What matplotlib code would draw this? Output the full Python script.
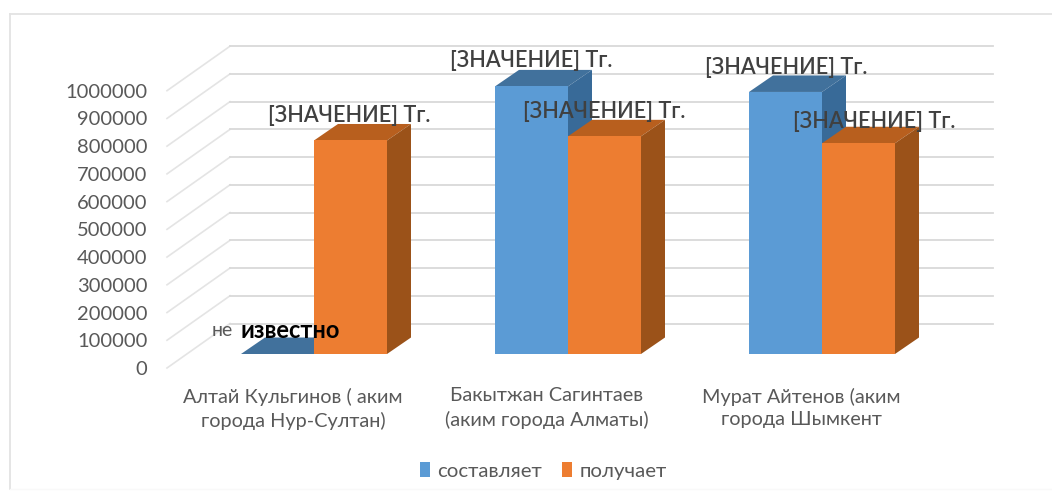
import numpy as np
import matplotlib
matplotlib.use("Agg")
import matplotlib.pyplot as plt
from matplotlib.lines import Line2D

categories = ["Алтай Кульгинов ( аким\nгорода Нур-Султан)",
              "Бакытжан Сагинтаев\n(аким города Алматы)",
              "Мурат Айтенов (аким\nгорода Шымкент"]
series_names = ["составляет", "получает"]
sostavlyaet = [0, 965000, 945000]
poluchaet = [770000, 785000, 760000]
y_ticks = list(range(0, 1000001, 100000))
value_label = "[ЗНАЧЕНИЕ] Тг."

W, H = 1052, 498
plt.rcParams['font.family'] = ['Lato', 'DejaVu Sans']
fig = plt.figure(figsize=(W/100, H/100), dpi=100, facecolor='white')

L, R, Y0, Y1 = 167, 993, 368, 90.7
ax = fig.add_axes([L/W, 1-Y0/H, (R-L)/W, (Y0-Y1)/H])
UNIT = 254.0
X0 = 314.0
ax.set_xlim((L-X0)/UNIT, (R-X0)/UNIT)
ax.set_ylim(0, 1000000)
ax.patch.set_visible(False)
for s in ax.spines.values():
    s.set_visible(False)

px_x = 1/UNIT
px_y = 1000000/(Y0-Y1)

# frame: top and left edges, the bottom barely visible
fig.add_artist(Line2D([10/W, 1.0], [1-14/H, 1-14/H], transform=fig.transFigure, color='#e3e3e3', lw=1.3))
fig.add_artist(Line2D([10/W, 10/W], [1-14/H, 1-489/H], transform=fig.transFigure, color='#e3e3e3', lw=1.3))
fig.add_artist(Line2D([10/W, 1.0], [1-489/H, 1-489/H], transform=fig.transFigure, color='#f9f9f9', lw=1.0))

# walls
back_dx, back_dv = 63*px_x, 44.5*px_y
xl, xr = ax.get_xlim()
for v in y_ticks:
    ax.plot([xl, xl+back_dx], [v, v+back_dv], color='#e4e4e4', lw=1.2, clip_on=False, zorder=1)
    ax.plot([xl+back_dx, xr], [v+back_dv, v+back_dv], color='#d9d9d9', lw=1.3, clip_on=False, zorder=1)

# bars
x = np.arange(len(categories))
bw = 73*px_x
base = 14*px_y
dx, dv = 24*px_x, 16.5*px_y
styles = [(sostavlyaet, -bw/2, '#5b9bd5', '#41719c', '#386a98'),
          (poluchaet, bw/2, '#ed7d31', '#b85f1e', '#9b5219')]
z = 3
for (vals, off, front, top, side), name in zip(styles, series_names):
    for xi, v in zip(x, vals):
        c = xi + off
        l, r = c-bw/2, c+bw/2
        t = base+v
        ax.fill([l, r, r+dx, l+dx], [t, t, t+dv, t+dv], color=top, lw=0, clip_on=False, zorder=z)
        ax.fill([r, r+dx, r+dx, r], [base, base+dv, t+dv, t], color=side, lw=0, clip_on=False, zorder=z)
    ax.bar(x+off, vals, width=bw, bottom=base, color=front, label=name, clip_on=False, zorder=z+0.1)
    z += 1

# ticks
ax.set_yticks(y_ticks)
ax.set_yticklabels([str(v) for v in y_ticks], fontsize=14.5, color='#595959')
ax.tick_params(axis='y', length=0, pad=14)
ax.set_xticks(x-21*px_x)
ax.set_xticklabels(categories, fontsize=14.3, color='#595959', linespacing=1.42)
ax.tick_params(axis='x', length=0, pad=14)

# value labels
lab_kw = dict(ha='center', va='center', fontsize=15.6, color='#404040', zorder=10,
              clip_on=False, fontweight='semibold')
def lab(xc_px, yc_px, s, **kw):
    d = dict(lab_kw); d.update(kw)
    ax.text((xc_px-X0)/UNIT, (Y0-yc_px)*px_y, s, **d)
lab(349.5, 116, value_label)
lab(531, 61, value_label)
lab(604.5, 112, value_label)
lab(786, 68, value_label)
lab(874, 121, value_label)
ax.text((212-X0)/UNIT, (Y0-331)*px_y, "не", ha='left', va='center', fontsize=14, color='#595959', zorder=10)
ax.text((240-X0)/UNIT, (Y0-331)*px_y, "известно", ha='left', va='center', fontsize=17,
        fontweight='bold', color='black', zorder=10)

# legend
leg = ax.legend(loc='center', bbox_to_anchor=(543.5/W, 1-471/H), bbox_transform=fig.transFigure,
                ncol=2, frameon=False, fontsize=14.7, handlelength=0.49, handleheight=0.7,
                handletextpad=0.34, columnspacing=1.0, labelcolor='#595959')

fig.savefig("out.png", dpi=100, facecolor='white')
